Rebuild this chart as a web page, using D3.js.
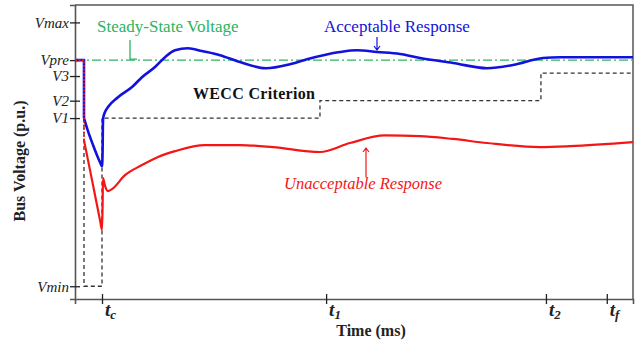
<!DOCTYPE html>
<html>
<head>
<meta charset="utf-8">
<script src="https://cdn.jsdelivr.net/npm/d3@7"></script>
<style>
  html, body { margin: 0; padding: 0; background: #fff; }
  svg { display: block; }
</style>
</head>
<body>
<svg id="chart" width="644" height="344" font-family="Liberation Serif"></svg>
<script>
// time in arbitrary units (0..100), voltage in p.u.
const yTickLabels = ['Vmax', 'Vpre', 'V3', 'V2', 'V1', 'Vmin'];
const yTickValues = [1.13, 1.0, 0.945, 0.86, 0.80, 0.22];
const xTickSubs = ['c', '1', '2', 'f'];
const xTickValues = [4.84, 45, 84.4, 95.3];

// pre-fault part + fault drop (straight), then the recovery (smooth)
const acceptablePre = [[0, 1.0], [1.61, 1.0], [1.61, 0.80]];
const acceptable = [
  [1.61, 0.80], [2.33, 0.755], [3.23, 0.707], [3.94, 0.672], [4.48, 0.648], [4.84, 0.634],
  [4.95, 0.69], [4.99, 0.765], [5.05, 0.80], [5.38, 0.821], [5.91, 0.838], [7.71, 0.872],
  [10.22, 0.907], [12.0, 0.941], [14.34, 0.976], [16.13, 1.010], [17.92, 1.034], [20.25, 1.041],
  [22.76, 1.031], [25.99, 1.017], [29.57, 0.993], [34.23, 0.972], [38.53, 0.986], [41.58, 1.003],
  [47.49, 1.028], [50.54, 1.034], [54.12, 1.028], [58.24, 1.021], [61.83, 1.007], [67.74, 0.990],
  [73.84, 0.972], [78.49, 0.983], [83.87, 1.007], [86.92, 1.010], [100, 1.010]
];
const unacceptablePre = [[0, 1.0], [1.61, 1.0], [1.61, 0.724]];
const unacceptable = [
  [1.61, 0.724], [3.05, 0.586], [4.48, 0.448], [4.84, 0.414], [4.95, 0.50], [5.02, 0.593],
  [5.38, 0.566], [5.91, 0.548], [6.63, 0.555], [8.96, 0.603], [12.0, 0.638], [14.87, 0.666],
  [17.92, 0.686], [23.3, 0.707], [29.57, 0.707], [35.48, 0.700], [43.9, 0.683], [49.28, 0.714],
  [55.5, 0.740], [61.83, 0.738], [67.74, 0.728], [73.84, 0.714], [83.33, 0.700], [88.71, 0.703],
  [100, 0.717]
];
const criterion = [
  [1.61, 0.80], [1.61, 0.22], [4.84, 0.22], [4.84, 0.80], [43.9, 0.80], [43.9, 0.86],
  [83.5, 0.86], [83.5, 0.955], [100, 0.955]
];
const steadyState = [[0, 1.0], [100, 1.0]];

const FONT = 'Liberation Serif';
const svg = d3.select('#chart');
const x = d3.scaleLinear().domain([0, 100]).range([75, 633]);
const y = d3.scaleLinear().domain([0.176, 1.19]).range([299, 5]);

const axisColor = '#555';
const blue = '#1212dc';
const red = '#f41616';
const green = '#2cb360';

// frame (top and right)
svg.append('path')
  .attr('d', `M${x(0)},${y(1.19)}H${x(100)}V${y(0.176)}`)
  .attr('fill', 'none')
  .attr('stroke', axisColor)
  .attr('stroke-width', 1.5);

// axes
const yAxis = svg.append('g')
  .attr('transform', `translate(${x(0)},0)`)
  .call(d3.axisLeft(y).tickValues(yTickValues).tickSize(5).tickFormat((d, i) => yTickLabels[i]));
const xAxis = svg.append('g')
  .attr('transform', `translate(0,${y(0.176)})`)
  .call(d3.axisBottom(x).tickValues(xTickValues).tickSize(5).tickFormat(''));

[yAxis, xAxis].forEach(g => {
  g.attr('font-family', FONT);
  g.select('.domain').attr('stroke', axisColor).attr('stroke-width', 1.6);
  g.selectAll('.tick line').attr('stroke', '#222').attr('stroke-width', 1.3);
});
yAxis.selectAll('.tick line').attr('x1', 5).attr('x2', -5);
xAxis.selectAll('.tick line').attr('y1', -5).attr('y2', 5);
yAxis.selectAll('.tick text')
  .attr('x', -6)
  .attr('font-family', FONT)
  .attr('font-style', 'italic')
  .attr('font-size', 15)
  .attr('fill', '#222');

// t labels with subscripts
xTickValues.forEach((v, i) => {
  const t = svg.append('text')
    .attr('x', x(v) + 3)
    .attr('y', 316)
    .attr('font-family', FONT)
    .attr('font-style', 'italic')
    .attr('font-weight', 'bold')
    .attr('font-size', 19)
    .attr('fill', '#222');
  t.append('tspan').text('t');
  t.append('tspan').attr('dy', 3).attr('font-size', 13).text(xTickSubs[i]);
});

svg.append('text')
  .attr('x', 371).attr('y', 336)
  .attr('text-anchor', 'middle')
  .attr('font-family', FONT)
  .attr('font-weight', 'bold')
  .attr('font-size', 16)
  .attr('fill', '#222')
  .text('Time (ms)');

svg.append('text')
  .attr('transform', 'translate(25,161) rotate(-90)')
  .attr('text-anchor', 'middle')
  .attr('font-family', FONT)
  .attr('font-weight', 'bold')
  .attr('font-size', 16)
  .attr('fill', '#222')
  .text('Bus Voltage (p.u.)');

const lineStraight = d3.line().x(d => x(d[0])).y(d => y(d[1]));
const lineSmooth = d3.line().x(d => x(d[0])).y(d => y(d[1])).curve(d3.curveMonotoneX);

// steady-state voltage
svg.append('path')
  .attr('d', lineStraight(steadyState))
  .attr('fill', 'none')
  .attr('stroke', green)
  .attr('stroke-width', 1.3)
  .attr('stroke-dasharray', '9,3,2,3');

// WECC criterion
svg.append('path')
  .attr('d', lineStraight(criterion))
  .attr('fill', 'none')
  .attr('stroke', '#333')
  .attr('stroke-width', 1.3)
  .attr('stroke-dasharray', '4,3');

// responses
svg.append('path').attr('d', lineStraight(acceptablePre))
  .attr('fill', 'none').attr('stroke', blue).attr('stroke-width', 2.6);
svg.append('path').attr('d', lineSmooth(acceptable))
  .attr('fill', 'none').attr('stroke', blue).attr('stroke-width', 2.6).attr('stroke-linejoin', 'round');
svg.append('path').attr('d', lineStraight(unacceptablePre))
  .attr('fill', 'none').attr('stroke', red).attr('stroke-width', 1.6).attr('stroke-dasharray', '2,1.5');
svg.append('path').attr('d', lineSmooth(unacceptable))
  .attr('fill', 'none').attr('stroke', red).attr('stroke-width', 2.2).attr('stroke-linejoin', 'round');

// annotations
svg.append('text')
  .attr('x', 97).attr('y', 32)
  .attr('font-family', FONT)
  .attr('font-size', 17)
  .attr('fill', green)
  .text('Steady-State Voltage');
svg.append('path')
  .attr('d', `M130,40V${y(1.0) - 1}h7`)
  .attr('fill', 'none')
  .attr('stroke', green)
  .attr('stroke-width', 1.3);

svg.append('text')
  .attr('x', 324).attr('y', 32)
  .attr('font-family', FONT)
  .attr('font-size', 17)
  .attr('fill', blue)
  .text('Acceptable Response');
svg.append('path')
  .attr('d', 'M377,37V50M374,46L377,50L380,46')
  .attr('fill', 'none')
  .attr('stroke', blue)
  .attr('stroke-width', 1.2);

svg.append('text')
  .attr('x', 284).attr('y', 189)
  .attr('font-family', FONT)
  .attr('font-size', 16.5)
  .attr('font-style', 'italic')
  .attr('fill', red)
  .text('Unacceptable Response');
svg.append('path')
  .attr('d', 'M366,177V148M363,152L366,148L369,152')
  .attr('fill', 'none')
  .attr('stroke', red)
  .attr('stroke-width', 1.2);

svg.append('text')
  .attr('x', 193).attr('y', 99)
  .attr('font-family', FONT)
  .attr('font-size', 16)
  .attr('font-weight', 'bold')
  .attr('fill', '#111')
  .attr('textLength', 122)
  .attr('lengthAdjust', 'spacing')
  .text('WECC Criterion');
</script>
</body>
</html>
